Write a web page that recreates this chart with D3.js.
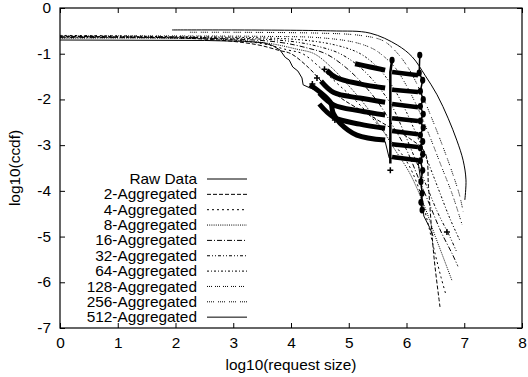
<!DOCTYPE html>
<html>
<head>
<meta charset="utf-8">
<script src="https://cdn.jsdelivr.net/npm/d3@7"></script>
<style>
  body { margin: 0; background: #fff; }
  svg text { font-family: "Liberation Sans", Arial, sans-serif; font-size: 14px; fill: #000; }
</style>
</head>
<body>
<svg id="chart" width="528" height="377"></svg>
<script>
// tick labels
let xTicks = [0, 1, 2, 3, 4, 5, 6, 7, 8];
let yTicks = [0, -1, -2, -3, -4, -5, -6, -7];

let seriesNames = ['Raw Data', '2-Aggregated', '4-Aggregated', '8-Aggregated', '16-Aggregated',
  '32-Aggregated', '64-Aggregated', '128-Aggregated', '256-Aggregated', '512-Aggregated'];

// [log10(request size), log10(ccdf)]
let rawData = [[1.94,-0.48],[4.68,-0.5],[5.37,-0.55],[5.84,-0.81],[6.1,-1.07],[6.32,-1.47],[6.53,-1.9],
  [6.72,-2.41],[6.87,-2.89],[6.98,-3.33],[7.03,-3.76],[7.01,-4.2]];
let agg2 = [[0,-0.62],[2.5,-0.68],[3.4,-0.8],[3.8,-0.93],[4.0,-1.0],[4.3,-1.3],[4.6,-1.7],[4.9,-2.0],
  [5.3,-2.3],[5.7,-2.6],[6.05,-2.85],[6.32,-3.16],[6.38,-3.9],[6.42,-4.6],[6.48,-5.5],[6.58,-6.54]];
let agg4 = [[0,-0.6],[2.6,-0.66],[3.5,-0.78],[3.95,-0.92],[4.2,-1.0],[4.5,-1.3],[4.8,-1.65],[5.1,-2.0],
  [5.4,-2.4],[5.7,-2.85],[6.0,-3.35],[6.2,-3.9],[6.35,-4.6],[6.5,-5.4],[6.6,-5.9],[6.68,-6.26]];
let agg8 = [[0,-0.66],[2.7,-0.68],[3.6,-0.77],[4.1,-0.9],[4.4,-1.0],[4.7,-1.3],[5.0,-1.7],[5.3,-2.15],
  [5.55,-2.6],[5.8,-3.1],[6.05,-3.6],[6.3,-4.3],[6.5,-5.0],[6.65,-5.5],[6.79,-5.97]];
let agg16 = [[0,-0.65],[2.8,-0.67],[3.8,-0.75],[4.3,-0.88],[4.6,-1.0],[4.9,-1.25],[5.2,-1.6],[5.5,-2.05],
  [5.75,-2.55],[6.0,-3.1],[6.2,-3.7],[6.4,-4.3],[6.6,-4.9],[6.8,-5.4],[6.89,-5.65]];
let agg32 = [[0,-0.64],[3.0,-0.66],[4.0,-0.73],[4.5,-0.85],[4.85,-1.0],[5.2,-1.3],[5.5,-1.7],[5.75,-2.15],
  [5.95,-2.7],[6.15,-3.3],[6.35,-3.9],[6.55,-4.5],[6.75,-5.0],[6.87,-5.34]];
let agg64 = [[0,-0.63],[3.0,-0.64],[4.2,-0.7],[4.8,-0.82],[5.2,-1.0],[5.5,-1.3],[5.75,-1.7],[5.95,-2.15],
  [6.15,-2.7],[6.35,-3.3],[6.55,-3.95],[6.75,-4.6],[6.93,-5.1]];
let agg128 = [[0,-0.61],[3.5,-0.62],[4.5,-0.65],[5.1,-0.75],[5.4,-0.88],[5.55,-1.0],[5.8,-1.3],[6.0,-1.7],
  [6.2,-2.2],[6.4,-2.8],[6.6,-3.45],[6.8,-4.1],[6.96,-4.73]];
let agg256 = [[2.25,-0.53],[4.5,-0.55],[5.2,-0.6],[5.6,-0.72],[5.85,-1.0],[6.05,-1.35],[6.25,-1.85],
  [6.45,-2.45],[6.65,-3.1],[6.82,-3.7],[6.92,-4.1],[6.98,-4.45]];
let agg512 = [[0,-0.7],[2.5,-0.71],[3.2,-0.73],[3.52,-0.76],[3.68,-0.82],[3.81,-0.92],[3.9,-1.08],
  [3.97,-1.14],[4.03,-1.29],[4.12,-1.38],[4.19,-1.53],[4.21,-1.68],[4.33,-1.75],[4.5,-1.83],
  [4.68,-2.06],[4.73,-2.3],[4.85,-2.52],[5.14,-2.78],[5.63,-2.92],[5.7,-3.28],[6.2,-3.36],
  [6.25,-3.8],[6.28,-4.3],[6.3,-4.55],[6.4,-4.8],[6.46,-4.99]];

// dense point clusters (rows left of and between the two columns)
let bandLeft = [
  [[5.11,-1.22],[5.37,-1.29],[5.63,-1.36]],
  [[4.62,-1.36],[4.78,-1.52],[5.19,-1.66],[5.63,-1.75]],
  [[4.52,-1.6],[4.74,-1.85],[5.19,-1.97],[5.63,-2.06]],
  [[4.49,-1.86],[4.74,-2.12],[5.19,-2.25],[5.63,-2.34]],
  [[4.49,-2.1],[4.74,-2.39],[5.19,-2.54],[5.63,-2.63]],
  [[4.33,-1.68],[4.68,-2.06],[4.73,-2.3],[4.85,-2.52],[5.14,-2.78],[5.63,-2.89]]
];
let bandRight = [
  [[5.75,-1.4],[6.2,-1.47]],
  [[5.75,-1.79],[6.2,-1.84]],
  [[5.75,-2.1],[6.2,-2.17]],
  [[5.75,-2.41],[6.2,-2.47]],
  [[5.75,-2.69],[6.2,-2.76]],
  [[5.75,-2.98],[6.2,-3.04]],
  [[5.75,-3.26],[6.2,-3.33]]
];
let col1Marks = [[5.75,-1.14],[5.72,-1.4],[5.72,-1.77],[5.72,-2.08],[5.72,-2.38],[5.72,-2.66],
  [5.72,-2.95],[5.72,-3.22],[5.72,-3.4]];
let col2Marks = [[6.23,-1.03],[6.22,-1.42],[6.28,-1.58],[6.24,-1.82],[6.29,-2.0],[6.24,-2.15],
  [6.29,-2.32],[6.24,-2.47],[6.29,-2.62],[6.24,-2.78],[6.28,-2.92],[6.24,-3.06],[6.28,-3.2],
  [6.24,-3.34],[6.28,-3.55],[6.25,-3.8],[6.27,-4.05],[6.25,-4.25],[6.27,-4.42]];
let plusMarks = [[4.45,-1.53],[4.58,-1.34],[4.37,-1.66],[6.7,-4.9],[5.72,-3.55],[4.76,-2.45]];

let seriesList = [rawData, agg2, agg4, agg8, agg16, agg32, agg64, agg128, agg256, agg512];
let seriesDash = [null, '4,2', '2,3', '1,1.2', '5,2,1,2', '3,2,1,2,1,2', '2,2,1,2', '1,1,1,1,1,3', '1,1,1,1,1,1,1,4', null];

let svg = d3.select('#chart');
let x = d3.scaleLinear().domain([0, 8]).range([60, 522]);
let y = d3.scaleLinear().domain([-7, 0]).range([328, 8]);
let sx = 1.1; // text is a bit wider than plain Helvetica

let smooth = d3.line().x(d => x(d[0])).y(d => y(d[1])).curve(d3.curveCatmullRom.alpha(0.5));
let straight = d3.line().x(d => x(d[0])).y(d => y(d[1]));

// axes with inward ticks on all four sides
function styleAxis(g) {
  g.select('.domain').remove();
  g.attr('font-family', null).attr('font-size', null);
  g.selectAll('.tick line').attr('stroke', '#000');
}
svg.append('g').attr('transform', 'translate(0,' + y(-7) + ')')
  .call(d3.axisBottom(x).tickValues(xTicks).tickSizeInner(-5).tickSizeOuter(0).tickPadding(10).tickFormat(d => String(d)))
  .call(styleAxis);
svg.append('g').attr('transform', 'translate(' + x(0) + ',0)')
  .call(d3.axisLeft(y).tickValues(yTicks).tickSizeInner(-5).tickSizeOuter(0).tickPadding(9).tickFormat(d => String(d)))
  .call(styleAxis);
svg.append('g').attr('transform', 'translate(0,' + y(0) + ')')
  .call(d3.axisTop(x).tickValues(xTicks).tickSizeInner(-5).tickSizeOuter(0).tickFormat(''))
  .call(styleAxis);
svg.append('g').attr('transform', 'translate(' + x(8) + ',0)')
  .call(d3.axisRight(y).tickValues(yTicks).tickSizeInner(-5).tickSizeOuter(0).tickFormat(''))
  .call(styleAxis);
svg.selectAll('.tick text').each(function () {
  let t = d3.select(this);
  let tx = +t.attr('x') || 0, ty = +t.attr('y') || 0;
  t.attr('x', 0).attr('y', 0).attr('transform', 'translate(' + tx + ',' + ty + ') scale(' + sx + ',1)');
});

// frame
svg.append('rect')
  .attr('x', x(0)).attr('y', y(0))
  .attr('width', x(8) - x(0)).attr('height', y(-7) - y(0))
  .attr('fill', 'none').attr('stroke', '#000').attr('stroke-width', 1.2);

// axis titles
svg.append('text')
  .attr('transform', 'translate(' + ((x(0) + x(8)) / 2) + ',370) scale(' + sx + ',1)')
  .attr('text-anchor', 'middle')
  .text('log10(request size)');
svg.append('text')
  .attr('transform', 'translate(20,' + ((y(0) + y(-7)) / 2) + ') rotate(-90) scale(' + sx + ',1)')
  .attr('text-anchor', 'middle')
  .text('log10(ccdf)');

// curves
let plot = svg.append('g');
seriesList.forEach((s, i) => {
  plot.append('path')
    .attr('d', i === 9 ? straight(s) : smooth(s))
    .attr('fill', 'none')
    .attr('stroke', '#000')
    .attr('stroke-width', 1)
    .attr('stroke-dasharray', seriesDash[i]);
});

// dense point bands
bandLeft.forEach(b => {
  plot.append('path').attr('d', smooth(b)).attr('fill', 'none')
    .attr('stroke', '#000').attr('stroke-width', 5);
});
bandRight.forEach(b => {
  plot.append('path').attr('d', straight(b)).attr('fill', 'none')
    .attr('stroke', '#000').attr('stroke-width', 4.5);
});
plot.append('path').attr('d', straight(col1Marks)).attr('fill', 'none')
  .attr('stroke', '#000').attr('stroke-width', 2.5);
plot.append('path').attr('d', straight(col2Marks)).attr('fill', 'none')
  .attr('stroke', '#000').attr('stroke-width', 1.5);
plot.selectAll('.blob').data(col2Marks.concat([col1Marks[0]])).enter().append('ellipse')
  .attr('class', 'blob')
  .attr('cx', d => x(d[0])).attr('cy', d => y(d[1]))
  .attr('rx', 2.6).attr('ry', 3.4).attr('fill', '#000');
plot.selectAll('.plus').data(plusMarks).enter().append('path')
  .attr('class', 'plus')
  .attr('transform', d => 'translate(' + x(d[0]) + ',' + y(d[1]) + ')')
  .attr('d', 'M-3,0H3M0,-3V3')
  .attr('stroke', '#000').attr('stroke-width', 1.5);

// legend
let legend = svg.append('g');
seriesNames.forEach((name, i) => {
  let ly = 179 + i * 15.35;
  legend.append('text')
    .attr('transform', 'translate(197,' + ly + ') scale(' + sx + ',1)')
    .attr('dy', '0.36em')
    .attr('text-anchor', 'end')
    .text(name);
  legend.append('line')
    .attr('x1', 207).attr('x2', 247).attr('y1', ly).attr('y2', ly)
    .attr('stroke', '#000').attr('stroke-width', 1)
    .attr('stroke-dasharray', seriesDash[i]);
});
</script>
</body>
</html>
